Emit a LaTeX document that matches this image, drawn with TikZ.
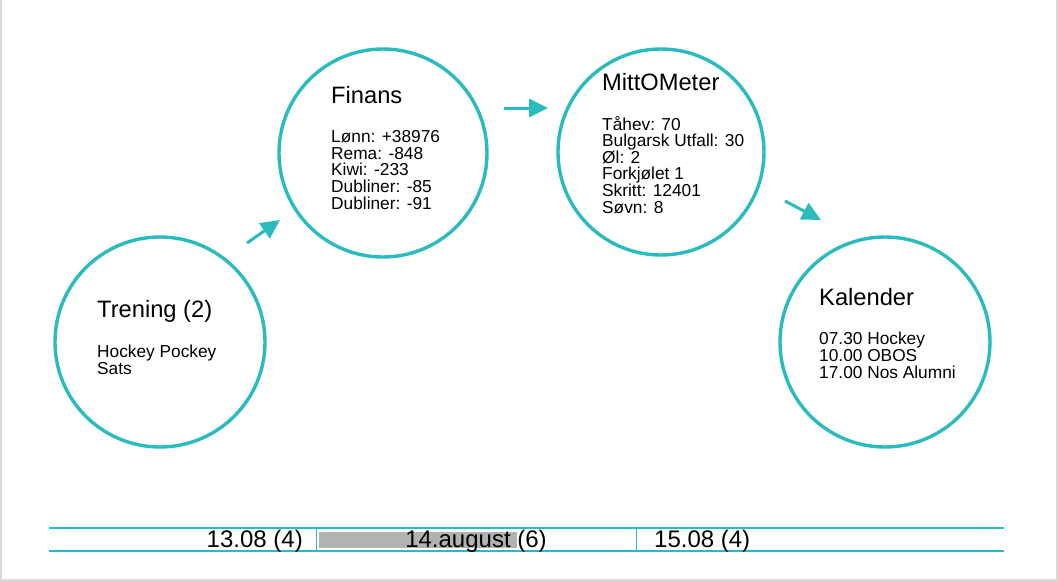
\documentclass[tikz,border=0pt]{standalone}
\usepackage{fontspec}
\setmainfont{Liberation Sans}
\usetikzlibrary{arrows.meta}
\definecolor{teal1}{RGB}{42,187,191}
\definecolor{frame}{RGB}{218,218,218}
\definecolor{bargray}{RGB}{178,178,178}
\tikzset{
  ring/.style={circle,draw=teal1,line width=3.4pt,minimum size=#1,inner sep=0pt},
  ttl/.style={anchor=base west,inner sep=0pt,font=\fontsize{23.7pt}{26pt}\selectfont},
  body/.style={anchor=base west,inner sep=0pt,align=left,font=\fontsize{17.3pt}{16.6pt}\selectfont},
  flow/.style={draw=teal1,line width=3pt,-{Triangle[length=19pt,width=18pt]}},
  barline/.style={draw=teal1,line width=1.6pt},
  divline/.style={draw=teal1,line width=0.8pt},
  bartxt/.style={inner sep=0pt,font=\fontsize{24pt}{26pt}\selectfont},
}
\begin{document}
\begin{tikzpicture}[x=1pt,y=-1pt]
\useasboundingbox (0,0) rectangle (1058,581);
% frame
\draw[frame,line width=2pt] (1,0) -- (1,580) -- (1057,580) -- (1057,0);
% circles
\node[ring=210pt] (tren) at (160,342) {};
\node[ring=208pt] (fin) at (383,153) {};
\node[ring=206pt] (mitt) at (661,152) {};
\node[ring=210pt] (kal) at (885,342) {};
% texts (body nodes anchored at the baseline of their last line)
\node[ttl] (trenT) at (97,317) {Trening (2)};
\node[body] (trenB) at (97,374) {Hockey Pockey\\Sats};
\node[ttl] (finT) at (331,103) {Finans};
\node[body] (finB) at (331,209) {Lønn: +38976\\Rema: -848\\Kiwi: -233\\Dubliner: -85\\Dubliner: -91};
\node[ttl] (mittT) at (602,90) {MittOMeter};
\node[body] (mittB) at (602,213) {Tåhev: 70\\Bulgarsk Utfall: 30\\Øl: 2\\Forkjølet 1\\Skritt: 12401\\Søvn: 8};
\node[ttl] (kalT) at (819,305) {Kalender};
\node[body] (kalB) at (819,378) {07.30 Hockey\\10.00 OBOS\\17.00 Nos Alumni};
% arrows
\coordinate (a1s) at (247,243); \coordinate (a1e) at (280,220);
\coordinate (a2s) at (504,108); \coordinate (a2e) at (548,108);
\coordinate (a3s) at (785,201); \coordinate (a3e) at (821,220);
\draw[flow] (a1s) -- (a1e);
\draw[flow] (a2s) -- (a2e);
\draw[flow] (a3s) -- (a3e);
% bottom bar
\fill[bargray] (319,532) rectangle (517,548);
\coordinate (bl1) at (49,528); \coordinate (br1) at (1004,528);
\coordinate (bl2) at (49,551); \coordinate (br2) at (1004,551);
\draw[barline] (bl1) -- (br1);
\draw[barline] (bl2) -- (br2);
\coordinate (d1t) at (316,528); \coordinate (d1b) at (316,551);
\coordinate (d2t) at (636,528); \coordinate (d2b) at (636,551);
\draw[divline] (d1t) -- (d1b);
\draw[divline] (d2t) -- (d2b);
\node[bartxt,anchor=base east] (day1) at (303,547) {13.08 (4)};
\node[bartxt,anchor=base] (day2) at (476,547) {14.august (6)};
\node[bartxt,anchor=base west] (day3) at (654,547) {15.08 (4)};
\end{tikzpicture}
\end{document}
